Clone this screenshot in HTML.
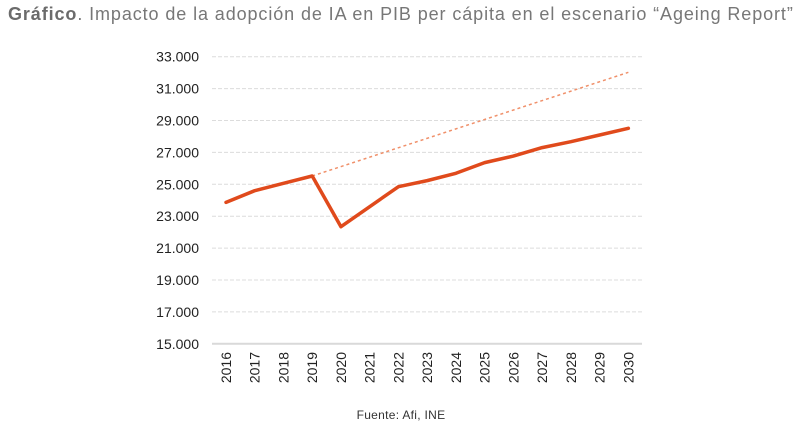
<!DOCTYPE html>
<html><head><meta charset="utf-8"><style>
body{margin:0;background:#fff;width:802px;height:433px;overflow:hidden;font-family:"Liberation Sans",sans-serif}
#title{position:absolute;left:8px;top:4px;font-size:18px;letter-spacing:0.9px;color:#777;white-space:nowrap}
#title b{color:#6b6b6b}
#src{position:absolute;left:0;width:802px;top:408px;text-align:center;font-size:12px;letter-spacing:0.3px;color:#333}
</style></head><body>
<div id="title"><b>Gráfico</b>. Impacto de la adopción de IA en PIB per cápita en el escenario “Ageing Report”</div>
<svg id="chart" width="802" height="433" style="position:absolute;left:0;top:0"></svg>
<div id="src">Fuente: Afi, INE</div>
<script>
const years=[2016,2017,2018,2019,2020,2021,2022,2023,2024,2025,2026,2027,2028,2029,2030];
const gdp=[23870,24600,25060,25520,22340,23600,24850,25230,25690,26360,26770,27300,27670,28090,28510];
const trendYears=[2019,2030];
const trendValues=[25520,32020];
const yTicks=[15000,17000,19000,21000,23000,25000,27000,29000,31000,33000];
const yTickLabels=["15.000","17.000","19.000","21.000","23.000","25.000","27.000","29.000","31.000","33.000"];
const svg=document.getElementById('chart');const NS='http://www.w3.org/2000/svg';
const X=y=>226+(y-2016)*28.74;
const Y=v=>56.7+(33000-v)/2000*31.9;
function mk(t,a){const e=document.createElementNS(NS,t);for(const k in a)e.setAttribute(k,a[k]);svg.appendChild(e);return e;}
yTicks.forEach((v,i)=>{
 const l=mk('line',{x1:212,x2:642,y1:Y(v),y2:Y(v),stroke:i==0?'#d9d9d9':'#dcdcdc','stroke-width':i==0?2:1,'stroke-dasharray':i==0?'':'4 2'});
 
 
 const t=mk('text',{x:199,y:Y(v)+5,'text-anchor':'end','font-size':14,fill:'#222'});
 t.textContent=yTickLabels[i];
 
 
});
years.forEach(yr=>{
 const t=mk('text',{x:0,y:0,'text-anchor':'end','font-size':14,fill:'#222',transform:`translate(${X(yr)+5},352) rotate(-90)`});
 t.textContent=yr;
 
 
});
const tr=mk('line',{x1:X(trendYears[0]),y1:Y(trendValues[0]),x2:X(trendYears[1]),y2:Y(trendValues[1]),stroke:'#f0906a','stroke-width':1.5,'stroke-dasharray':'3 3'});


const p=mk('polyline',{points:years.map((y,i)=>X(y)+','+Y(gdp[i])).join(' '),fill:'none',stroke:'#e04a1c','stroke-width':3.5,'stroke-linejoin':'round','stroke-linecap':'round'});


</script>
</body></html>
